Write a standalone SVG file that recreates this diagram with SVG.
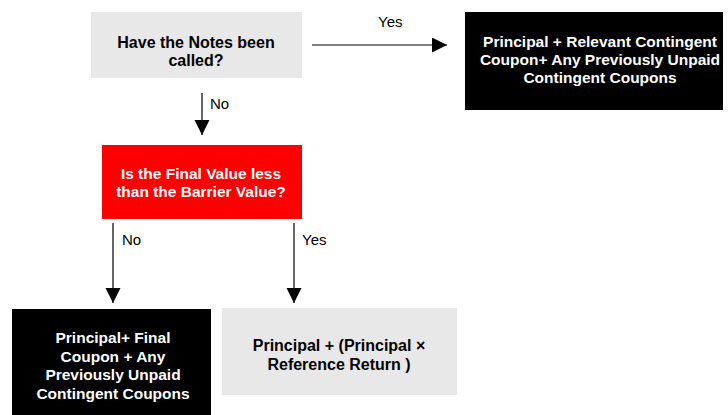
<svg xmlns="http://www.w3.org/2000/svg" width="728" height="415" viewBox="0 0 728 415">
<style>
.node text{font-family:"Liberation Sans",Arial,sans-serif;font-weight:bold;font-size:15.5px;text-anchor:middle}
.big text{font-size:16px}
.gray{fill:#e8e8e8}
.black{fill:#000}
.red{fill:#ff0000}
.dark text{fill:#000}
.light text{fill:#fff}
.conn line{stroke:#000;stroke-width:1.2;fill:none}
.lbl{font-family:"Liberation Sans",Arial,sans-serif;font-size:15px;fill:#000}
</style>
<defs>
<marker id="ah" markerUnits="userSpaceOnUse" markerWidth="16" markerHeight="16" refX="15" refY="7.5" orient="auto">
<path d="M0,0 L15,7.5 L0,15 Z" fill="#000"/>
</marker>
</defs>
<g id="called" class="node dark big">
<rect class="gray" x="91" y="12" width="211" height="66"/>
<text x="196" y="48">Have the Notes been</text>
<text x="196" y="66">called?</text>
</g>
<g id="called-yes" class="node light">
<rect class="black" x="465" y="12" width="258" height="98"/>
<text x="600" y="47">Principal + Relevant Contingent</text>
<text x="600" y="65">Coupon+ Any Previously Unpaid</text>
<text x="600" y="83">Contingent Coupons</text>
</g>
<g id="barrier" class="node light">
<rect class="red" x="102" y="145" width="200" height="74"/>
<text x="201" y="179">Is the Final Value less</text>
<text x="201" y="197">than the Barrier Value?</text>
</g>
<g id="barrier-no" class="node light">
<rect class="black" x="12" y="309" width="199" height="110"/>
<text x="113" y="343">Principal+ Final</text>
<text x="113" y="362">Coupon + Any</text>
<text x="113" y="380">Previously Unpaid</text>
<text x="113" y="399">Contingent Coupons</text>
</g>
<g id="barrier-yes" class="node dark big">
<rect class="gray" x="222" y="308" width="235" height="87"/>
<text x="339" y="351">Principal + (Principal ×</text>
<text x="339" y="370">Reference Return )</text>
</g>
<g id="connectors" class="conn">
<line x1="312" y1="45" x2="447" y2="45" marker-end="url(#ah)"/>
<text class="lbl" x="378" y="27">Yes</text>
<line x1="202" y1="93" x2="202" y2="135" marker-end="url(#ah)"/>
<text class="lbl" x="210" y="109">No</text>
<line x1="113" y1="223" x2="113" y2="303" marker-end="url(#ah)"/>
<text class="lbl" x="122" y="245">No</text>
<line x1="294" y1="223" x2="294" y2="303" marker-end="url(#ah)"/>
<text class="lbl" x="302" y="245">Yes</text>
</g>
</svg>
